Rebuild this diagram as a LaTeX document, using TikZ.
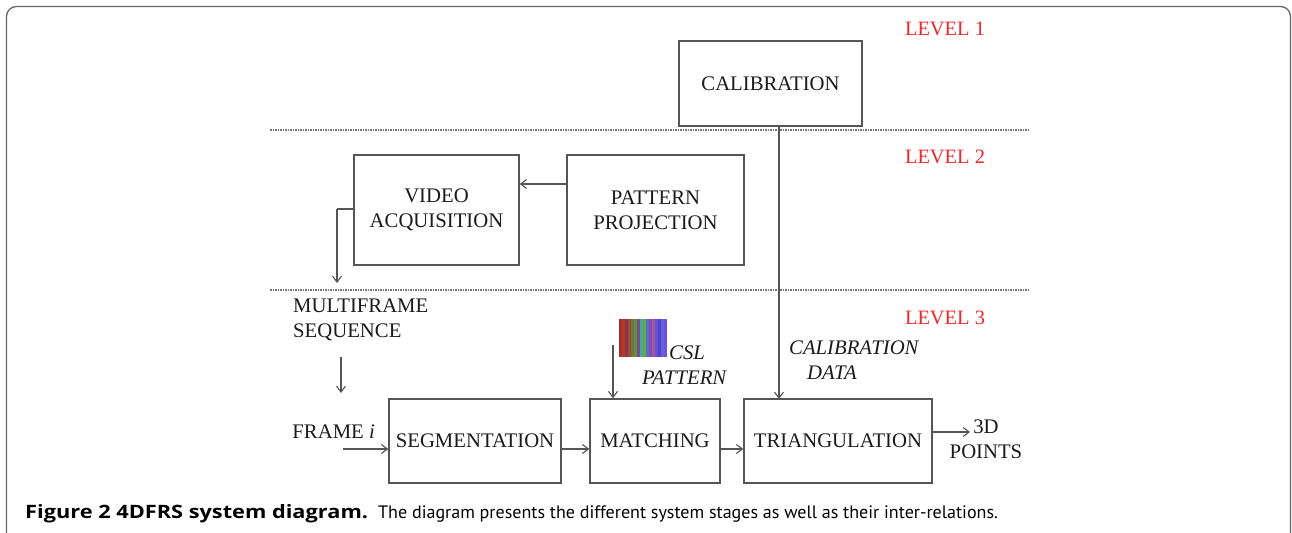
\documentclass[tikz,border=0pt]{standalone}
\usepackage{fontspec}
\setmainfont{Liberation Serif}
\newfontfamily\capfont{PT Sans}
\newfontfamily\capbold{Open Sans}[BoldFont={* Bold}]
\usetikzlibrary{arrows.meta}
\definecolor{lineg}{HTML}{555555}
\definecolor{lvred}{HTML}{F0282D}
\definecolor{txtc}{HTML}{1A1A1A}
\tikzset{
  blk/.style={draw=lineg, line width=1.4bp, minimum width=#1, inner sep=0pt, align=center, text=txtc, font=\fontsize{20.8}{25}\selectfont},
  lbl/.style={inner sep=0pt, align=center, text=txtc, font=\fontsize{20.8}{25}\selectfont},
  ilbl/.style={inner sep=0pt, align=center, text=txtc, font=\fontsize{20.8}{25}\selectfont\itshape},
  lvl/.style={inner sep=0pt, text=lvred, font=\fontsize{20.5}{25}\selectfont},
  conn/.style={draw=lineg, line width=1.1bp, -{Straight Barb[length=6bp,width=9bp]}},
  plain/.style={draw=lineg, line width=1.1bp},
  sep/.style={draw=lineg!80, line width=1.2bp, dash pattern=on 1.5bp off 1bp},
}
\begin{document}
\begin{tikzpicture}[x=1bp,y=-1bp]
\useasboundingbox (0,0) rectangle (1292,533);
% frame
\draw[draw=lineg!90, line width=1.3bp, rounded corners=10bp] (6.5,540) -- (6.5,6.5) -- (1290.5,6.5) -- (1290.5,540);
% separators
\draw[sep] (270,130) -- (1028,130);
\draw[sep] (270,290) -- (1028,290);
% levels
\node[lvl] (l1) at (945,29) {LEVEL 1};
\node[lvl] (l2) at (945,157) {LEVEL 2};
\node[lvl] (l3) at (945,318) {LEVEL 3};
% boxes
\node[blk=183bp, minimum height=85bp] (cal) at (770.5,83.5) {CALIBRATION};
\node[blk=165bp, minimum height=110bp] (vid) at (436.5,210) {VIDEO\\ACQUISITION};
\node[blk=177bp, minimum height=110bp] (pat) at (655.5,210) {PATTERN\\PROJECTION};
\node[blk=172bp, minimum height=84bp] (seg) at (475,441) {SEGMENTATION};
\node[blk=130bp, minimum height=84bp] (mat) at (655,441) {MATCHING};
\node[blk=188bp, minimum height=84bp] (tri) at (838,441) {TRIANGULATION};
% texts
\node[lbl, anchor=west, align=left] (mfs) at (293,320) {MULTIFRAME\\SEQUENCE};
\node[lbl, anchor=east] (frm) at (375,432) {FRAME \textit{i}};
\node[lbl, align=center] (pts) at (986,439) {3D\\POINTS};
\node[ilbl, align=left, anchor=west] (csl) at (642,365) {\hspace*{27bp}CSL\\PATTERN};
\node[ilbl, align=left, anchor=west] (cd) at (789,360) {CALIBRATION\\\hspace*{18bp}DATA};
% CSL stripe image
\node[inner sep=0pt, minimum width=48bp, minimum height=38bp, anchor=north west] (img) at (619,319) {};
\foreach \c [count=\i from 0] in {A8302A,B83A28,8A3848,A04A38,6B7A3A,5E8E48,7A4A8A,48A8A0,60A848,5A6ED0,8A48B0,9A5AA0,6E4ED8,4A48C8,6A60D8,7050E0}{
  \definecolor{stripe}{HTML}{\c}
  \fill[stripe] ({619+\i*3},319) rectangle ++(3,38);
}
% connectors
\coordinate (fin) at (343,449);
\coordinate (cslin) at (613,345);
\coordinate (vout) at (337,209);
\coordinate (vend) at (337,283);
\coordinate (mfsout) at (341,357);
\coordinate (mfsend) at (341,393);
\coordinate (ptsend) at (970,432);
\draw[conn] (pat.west |- 0,184) -- (vid.east |- 0,184);
\draw[plain] (vid.west |- vout) -- (vout);
\draw[conn] (vout) -- (vend);
\draw[conn] (mfsout) -- (mfsend);
\draw[conn] (fin) -- (seg.west |- fin);
\draw[conn] (seg.east |- 0,449) -- (mat.west |- 0,449);
\draw[conn] (mat.east |- 0,449) -- (tri.west |- 0,449);
\draw[conn] (tri.east |- ptsend) -- (ptsend);
\draw[conn] (cslin) -- (cslin |- mat.north);
\draw[conn] (779,126) -- (779,399);
% caption
\node[anchor=base west, inner sep=0pt, font=\capbold\bfseries\fontsize{18.5}{24}\selectfont] (capb) at (25,518) {\scalebox{1.18}[1]{Figure 2 4DFRS system diagram.}};
\node[anchor=base west, inner sep=0pt, font=\capfont\fontsize{18.1}{24}\selectfont] (capr) at (378,518) {The diagram presents the different system stages as well as their inter-relations.};
\end{tikzpicture}
\end{document}
